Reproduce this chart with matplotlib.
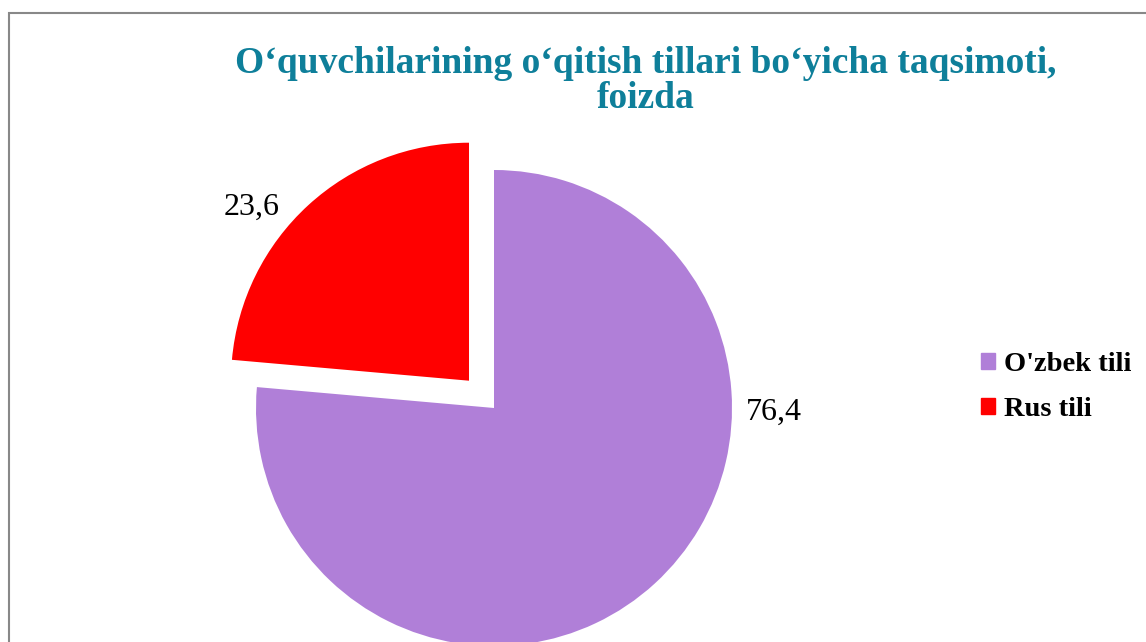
import matplotlib.pyplot as plt
from matplotlib.patches import Rectangle

# share of pupils by language of instruction, percent
languages = ["O'zbek tili", "Rus tili"]
shares = [76.4, 23.6]
share_labels = ["76,4", "23,6"]
colors = ["#b07fd8", "#ff0000"]

plt.rcParams['font.family'] = ['Liberation Serif', 'DejaVu Serif']

fig = plt.figure(figsize=(11.46, 6.42), dpi=100)
ax = fig.add_axes([0, 0, 1, 1])

# explode is in data units here (pixels), not fractions of the radius
wedges, _ = ax.pie(shares, colors=colors, startangle=90, counterclock=False,
                   explode=[0, 37], radius=238, center=(494, 234),
                   wedgeprops=dict(linewidth=0))
ax.set_xlim(0, 1146)
ax.set_ylim(0, 642)
ax.set_aspect('auto')
ax.axis('off')

# chart frame (only top and left edges are inside the picture)
ax.add_patch(Rectangle((9, -20), 1200, 649, fill=False, edgecolor='#888888',
                       linewidth=1.5, clip_on=False))

ax.text(774, 230, share_labels[0], fontsize=23, ha='center', va='center')
ax.text(252, 435, share_labels[1], fontsize=23, ha='center', va='center')

fig.text(0.563, 0.874, "O\u2018quvchilarining o\u2018qitish tillari bo\u2018yicha taqsimoti,\nfoizda",
         ha='center', va='center', fontsize=27, fontweight='bold', color='#0e7f9a',
         linespacing=1.02)

handles = [Rectangle((0, 0), 1, 1, color=c) for c in colors]
leg = fig.legend(handles, languages, loc='center left', bbox_to_anchor=(0.856, 0.397),
                 frameon=False, prop=dict(size=20.5, weight='bold'), borderpad=0,
                 borderaxespad=0, handlelength=0.5, handleheight=0.5,
                 handletextpad=0.3, labelspacing=0.7)

fig.savefig('out.png', dpi=100)
